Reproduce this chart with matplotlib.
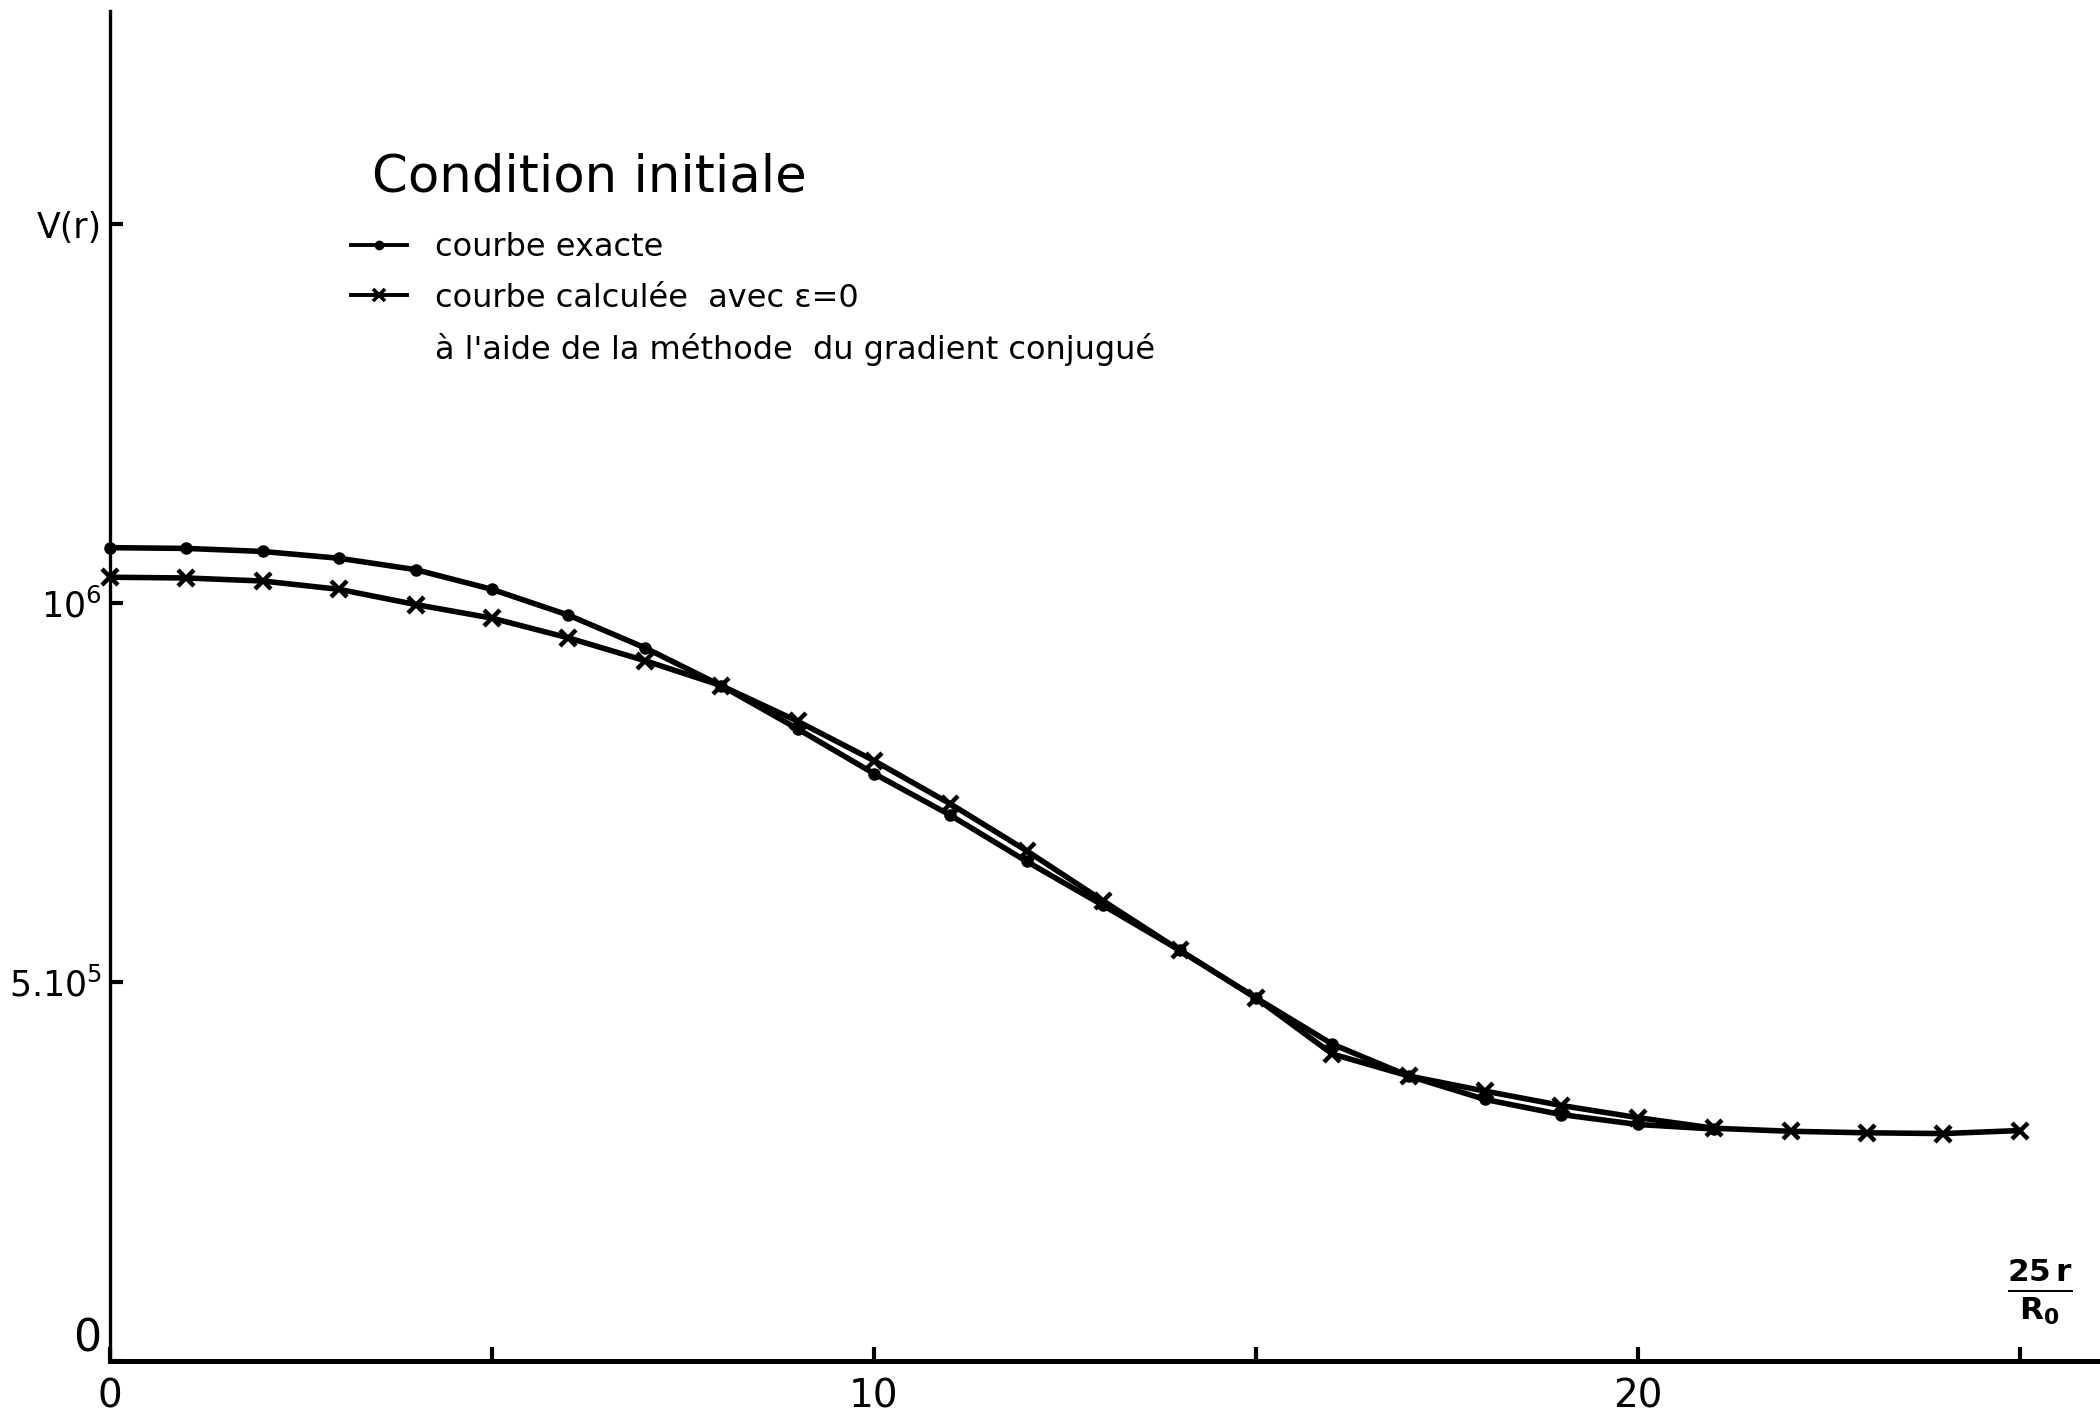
import matplotlib
matplotlib.use("Agg")
import matplotlib.pyplot as plt
from matplotlib.lines import Line2D

plt.rcParams['font.family'] = ['DejaVu Sans']
plt.rcParams['mathtext.fontset'] = 'dejavusans'

# abscisse 25 r / R0
x_exacte = list(range(0, 22))
x_calc = list(range(0, 26))

# V(r) courbe exacte (points)
v_exacte = [1.073e6, 1.072e6, 1.068e6, 1.059e6, 1.044e6, 1.018e6, 0.984e6, 0.941e6,
            0.891e6, 0.834e6, 0.775e6, 0.720e6, 0.659e6, 0.601e6, 0.542e6, 0.479e6,
            0.418e6, 0.376e6, 0.345e6, 0.325e6, 0.312e6, 0.306e6]

# V(r) calculee avec e=0 (croix)
v_calc = [1.034e6, 1.033e6, 1.029e6, 1.018e6, 0.998e6, 0.980e6, 0.954e6, 0.924e6,
          0.891e6, 0.844e6, 0.792e6, 0.735e6, 0.673e6, 0.607e6, 0.542e6, 0.479e6,
          0.405e6, 0.376e6, 0.356e6, 0.337e6, 0.321e6, 0.307e6, 0.303e6, 0.301e6,
          0.300e6, 0.304e6]

xticks = [0, 5, 10, 15, 20, 25]
xtick_labels = ['0', '', '10', '', '20', '']
yticks = [0, 5e5, 1e6, 1.5e6]
ytick_labels = ['0', r'$5.10^5$', r'$10^6$', 'V(r)']

fig = plt.figure(figsize=(21, 14.15), dpi=100)
ax = fig.add_axes([0.0524, 0.0382, 0.9476, 0.954])

ax.plot(x_exacte, v_exacte, color='black', lw=4, marker='o', ms=8, clip_on=False, zorder=3)
ax.plot(x_calc, v_calc, color='black', lw=4, marker='x', ms=12, mew=3.2, clip_on=False, zorder=3)

ax.set_xlim(0, 26.05)
ax.set_ylim(0, 1.781e6)

for s in ['top', 'right']:
    ax.spines[s].set_visible(False)
ax.spines['left'].set_linewidth(2.4)
ax.spines['bottom'].set_linewidth(3.6)

ax.set_xticks(xticks)
ax.set_xticklabels(xtick_labels)
ax.set_yticks(yticks)
ax.set_yticklabels(ytick_labels)
ax.tick_params(axis='x', direction='in', length=10, width=3, pad=12, labelsize=28)
ax.tick_params(axis='y', direction='in', length=9, width=3, pad=6, labelsize=25)
# le "0" de l'axe vertical est plus grand et un peu au-dessus de l'axe
zero_lbl = ax.get_yticklabels()[0]
zero_lbl.set_fontsize(32)
zero_lbl.set_va('bottom')

ax.set_xlabel(r'$\mathbf{\frac{25\,r}{R_0}}$', fontsize=32)
ax.xaxis.set_label_coords(0.970, 0.051)
ax.xaxis.label.set_va('center')

# legende
ax.text(0.1317, 0.877, 'Condition initiale', transform=ax.transAxes,
        fontsize=37, va='center', ha='left')

handles = [
    Line2D([], [], color='black', lw=2.8, marker='o', ms=6),
    Line2D([], [], color='black', lw=2.8, marker='x', ms=9, mew=2.6),
    Line2D([], [], linestyle='none'),
]
labels = ['courbe exacte',
          'courbe calculée  avec ε=0',
          "à l'aide de la méthode  du gradient conjugué"]
ax.legend(handles, labels, loc='upper left', bbox_to_anchor=(0.121, 0.836),
          frameon=False, fontsize=23, borderpad=0, borderaxespad=0,
          handlelength=1.75, handletextpad=0.9, labelspacing=0.6)

plt.savefig('out.png', dpi=100)
